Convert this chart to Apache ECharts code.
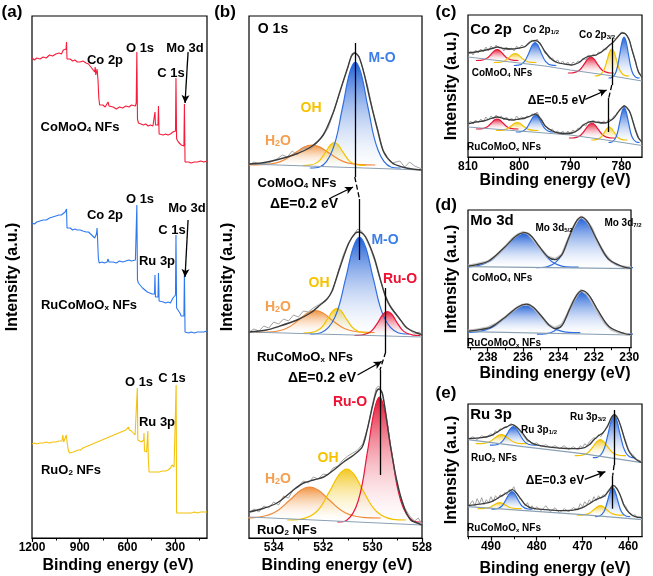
<!DOCTYPE html>
<html><head><meta charset="utf-8">
<script src="https://cdn.jsdelivr.net/npm/echarts@6/dist/echarts.min.js"></script>
<style>html,body{margin:0;padding:0;background:#fff}#c{width:653px;height:576px}</style>
</head><body><div id="c"></div>
<script>
// ---------- Panel (a): survey spectra [eV, intensity] ----------
const a_red = [[1200,480],[1185,478],[1170,480],[1150,479],[1130,481],[1110,480],[1090,483],[1070,482],[1050,484],[1030,485],[1015,484],[1003,488],[992,490],[986,489],[983,496],[980,479],[972,478],[960,479],[945,477],[930,478],[915,476],[898,476],[880,477],[860,475],[845,474],[835,472],[825,470],[815,469],[806,466],[803,471],[799,463],[795,465],[791,469],[788,470],[785,458],[780,440],[775,433],[765,431],[755,433],[740,431],[728,433],[722,436],[716,432],[705,430],[690,431],[670,429],[650,431],[630,430],[610,432],[590,431],[575,433],[563,433],[550,432],[545,435],[541,486],[537,419],[531,415],[515,414],[500,413],[485,414],[470,412],[455,413],[440,412],[430,414],[427,426],[424,413],[415,412],[408,413],[405,432],[401,404],[390,404],[375,403],[360,404],[345,403],[330,404],[320,405],[314,406],[305,405],[298,407],[295,460],[291,399],[280,396],[270,394],[262,393],[250,391],[245,392],[242,434],[238,376],[232,375],[215,376],[200,375],[180,376],[160,376],[140,377],[120,376],[100,377]];
const a_blue = [[1200,315],[1185,314],[1170,316],[1150,317],[1130,318],[1110,318],[1090,320],[1070,321],[1050,322],[1030,323],[1015,323],[1003,325],[992,326],[986,325],[983,329],[980,310],[972,309],[960,310],[945,308],[930,309],[915,308],[898,308],[880,307],[860,306],[845,306],[835,305],[825,303],[815,302],[806,300],[800,302],[795,304],[791,310],[788,300],[783,280],[778,275],[770,275],[760,276],[745,275],[728,276],[722,279],[716,276],[705,275],[690,276],[670,275],[650,277],[630,276],[610,277],[590,278],[575,277],[563,278],[550,278],[545,279],[541,333],[537,258],[531,255],[520,253],[505,250],[490,248],[475,246],[460,245],[445,244],[435,243],[430,244],[427,263],[424,241],[415,240],[408,241],[405,265],[401,237],[390,236],[375,236],[360,235],[345,236],[330,235],[320,236],[314,240],[305,242],[298,243],[295,303],[291,230],[280,228],[270,225],[262,222],[250,221],[245,222],[242,265],[238,206],[232,205],[215,205],[200,206],[180,205],[160,206],[140,206],[120,206],[100,207]];
const a_yellow = [[1200,94],[1185,95],[1170,94],[1150,95],[1130,95],[1110,96],[1090,95],[1070,96],[1050,96],[1030,97],[1012,97],[1006,103],[1001,96],[990,96],[984,103],[979,95],[972,88],[965,85],[955,85],[940,86],[925,87],[910,88],[895,88],[880,90],[865,91],[850,92],[835,93],[820,94],[805,95],[790,96],[775,97],[760,98],[745,99],[730,100],[715,101],[700,102],[685,103],[670,104],[655,105],[640,106],[625,107],[610,108],[600,109],[594,111],[588,108],[575,107],[563,105],[552,103],[545,103],[541,104],[538,150],[535,98],[525,97],[512,96],[503,96],[498,98],[496,105],[493,87],[488,86],[480,86],[475,88],[472,107],[469,80],[464,66],[455,65],[440,66],[420,66],[400,66],[380,67],[360,67],[345,68],[330,70],[320,73],[313,75],[307,71],[300,70],[297,72],[294,153],[291,25],[280,25],[260,25],[240,25],[220,25],[200,25],[180,26],[160,25],[140,26],[120,26],[100,26]];
const a_ticks = [300,600,900,1200], a_minor = [150,450,750,1050];

// ---------- Panel (b): O 1s ----------
const b1_raw = [[535,373],[534.8,376],[534.55,374],[534.2,375],[533.87,379],[533.65,383],[533.45,381],[533.25,387],[533.05,383],[532.8,390],[532.5,389],[532.25,395],[532.0,402],[531.8,410],[531.6,424],[531.4,440],[531.2,456],[531.0,470],[530.85,484],[530.7,486],[530.55,482],[530.4,470],[530.2,452],[530.0,428],[529.8,410],[529.6,389],[529.4,381],[529.2,375],[528.9,377],[528.7,371],[528.5,376],[528.3,372],[528,369]];
const b1_env = [[535,374],[534.5,375],[533.9,378],[533.2,383],[532.5,391],[532.0,403],[531.6,425],[531.3,448],[531.0,471],[530.85,482],[530.72,485],[530.55,481],[530.35,465],[530.1,438],[529.8,408],[529.55,386],[529.2,375],[528.8,371],[528.4,369],[528,368]];
const b1_base = [[535,374],[528,368]];
const b1_MO = [[532.54,370],[532.14,371],[531.62,388],[531.22,430],[530.93,465],[530.7,476],[530.47,465],[530.18,430],[529.78,388],[529.26,371],[528.86,370]];
const b1_OH = [[532.83,372.5],[532.55,372.8],[532.19,376.4],[531.91,385.6],[531.71,393.1],[531.55,395.5],[531.39,393.1],[531.19,385.6],[530.91,376.4],[530.55,372.8],[530.27,372.5]];
const b1_H2O = [[535.01,373],[534.45,373.3],[533.73,376.4],[533.17,384.4],[532.77,390.9],[532.45,393],[532.13,390.9],[531.73,384.4],[531.17,376.4],[530.45,373.3],[529.89,373]];

const b2_raw = [[535,206],[534.8,209],[534.6,207],[534.4,212],[534.2,210],[534.0,216],[533.8,214],[533.6,219],[533.4,217],[533.2,223],[533.0,221],[532.8,227],[532.6,226],[532.4,230],[532.2,233],[532.0,236],[531.8,240],[531.6,248],[531.4,266],[531.2,282],[531.0,294],[530.8,302],[530.6,309],[530.45,307],[530.3,301],[530.1,290],[529.9,276],[529.7,259],[529.5,244],[529.3,233],[529.1,226],[528.9,219],[528.7,211],[528.5,208],[528.3,204],[528.1,206],[528,203]];
const b2_env = [[535,206],[534.3,208],[533.87,211],[533.06,218],[532.52,225],[532.12,233],[531.84,239],[531.64,247],[531.3,272],[530.96,295],[530.69,305],[530.53,306],[530.28,301],[529.94,281],[529.68,258],[529.47,241],[529.27,231],[528.93,220],[528.6,210],[528.2,205],[528,203]];
const b2_base = [[535,206],[528,201]];
const b2_MO = [[532.53,204],[532.09,205.3],[531.53,220.5],[531.09,259.3],[530.78,290.8],[530.53,301],[530.28,290.8],[529.97,259.3],[529.53,220.5],[528.97,205.3],[528.53,204]];
const b2_RuO = [[530.73,202.5],[530.44,202.8],[530.06,206.6],[529.77,216.2],[529.57,224],[529.4,226.5],[529.23,224],[529.03,216.2],[528.74,206.6],[528.36,202.8],[528.07,202.5]];
const b2_OH = [[532.8,205],[532.5,205.3],[532.12,209.2],[531.82,219.1],[531.61,227.1],[531.44,229.7],[531.27,227.1],[531.06,219.1],[530.76,209.2],[530.38,205.3],[530.08,205]];
const b2_H2O = [[534.72,205.5],[534.2,205.8],[533.52,209.2],[532.99,218],[532.62,225.2],[532.32,227.5],[532.02,225.2],[531.65,218],[531.12,209.2],[530.45,205.8],[529.92,205.5]];

const b3_raw = [[535,25],[534.8,29],[534.6,26],[534.4,32],[534.2,30],[534.0,36],[533.8,33],[533.6,42],[533.4,40],[533.2,49],[533.0,52],[532.8,57],[532.6,55],[532.4,61],[532.2,59],[532.0,64],[531.8,63],[531.6,70],[531.4,72],[531.2,78],[531.0,82],[530.8,85],[530.6,88],[530.4,94],[530.2,110],[530.0,134],[529.85,150],[529.75,152],[529.6,145],[529.45,123],[529.3,97],[529.1,66],[528.9,44],[528.7,30],[528.5,22],[528.3,17],[528.15,20],[528,14]];
const b3_env = [[535,26],[534.5,29],[533.87,35],[533.2,48],[532.79,55],[532.39,58],[531.98,61],[531.57,68],[531.17,76],[530.76,83],[530.42,91],[530.22,108],[530.01,131],[529.85,146],[529.74,149],[529.61,145],[529.47,125],[529.27,91],[529.0,55],[528.73,31],[528.46,18],[528.19,15],[528,13]];
const b3_base = [[535,21],[528,13]];
const b3_RuO = [[531.43,16],[531.06,17.6],[530.58,37.3],[530.2,87.3],[529.93,127.9],[529.72,141],[529.51,127.9],[529.24,87.3],[528.86,37.3],[528.38,17.6],[528.01,16]];
const b3_OH = [[533.45,18],[532.93,18.7],[532.25,26.7],[531.73,47.1],[531.35,63.6],[531.05,69],[530.75,63.6],[530.38,47.1],[529.85,26.7],[529.18,18.7],[528.65,18]];
const b3_H2O = [[535.43,20],[534.8,20.4],[533.99,25.3],[533.36,37.7],[532.91,47.7],[532.55,51],[532.19,47.7],[531.74,37.7],[531.11,25.3],[530.3,20.4],[529.67,20]];
const b_ticks = [528,530,532,534], b_minor = [529,531,533];

// ---------- Panel (c): Co 2p ----------
const c1_raw = [[810,103],[809.5,106],[809,102],[808.5,107],[808,104],[807.5,108],[807,105],[806.5,110],[806,106],[805.5,111],[805,108],[804.5,112],[804,109],[803.5,110],[803,106],[802.5,110],[802,107],[801.5,109],[801,106],[800.5,111],[800,108],[799.5,112],[799,110],[798.5,113],[798,115],[797.5,117],[797,115],[796.5,118],[796,113],[795.5,110],[795,104],[794.5,102],[794,98],[793.5,99],[793,95],[792.5,97],[792,93],[791.5,96],[791,92],[790.5,95],[790,91],[789.5,95],[789,93],[788.5,96],[788,95],[787.5,99],[787,97],[786.5,102],[786,100],[785.5,103],[785,101],[784.5,105],[784,104],[783.5,108],[783,107],[782.5,112],[782,113],[781.5,116],[781,118],[780.5,121],[780,125],[779.5,124],[779,122],[778.5,118],[778,108],[777.5,99],[777,90],[776.5,84],[776,81]];
const c1_env = [[810,104],[808.5,105],[806.5,107],[805,109],[804.3,110],[803,108.5],[801.5,108],[800,109],[798.8,110.5],[797.8,115],[796.9,116.5],[796,114],[794.9,105],[793.5,97],[792.3,94],[790.5,92.5],[789.7,92],[788.5,94],[787.7,97],[786.8,100],[786,101],[785,102],[783.8,105.5],[782.5,111],[781.5,115.5],[780.6,121],[779.9,124],[779.2,123],[778.5,117],[778,108],[777.3,96],[776.7,85],[776,80]];
const c1_base = [[810,100],[795,91],[790,87],[783,82],[776,76]];
const c1_red1 = [[808.46,96.5],[807.55,96.6],[806.38,98.4],[805.47,102.8],[804.82,106.3],[804.3,107.5],[803.78,106.3],[803.13,102.8],[802.22,98.4],[801.05,96.6],[800.14,96.5]];
const c1_yel1 = [[804.96,94.5],[804.05,94.6],[802.88,96.0],[801.97,99.6],[801.32,102.6],[800.8,103.5],[800.28,102.6],[799.63,99.6],[798.72,96.0],[797.55,94.6],[796.64,94.5]];
const c1_blu1 = [[801.06,91.5],[800.15,91.8],[798.98,95.4],[798.07,104.6],[797.42,112.1],[796.9,114.5],[796.38,112.1],[795.73,104.6],[794.82,95.4],[793.65,91.8],[792.74,91.5]];
const c1_red2 = [[790.48,84],[789.5,84.2],[788.24,86.7],[787.26,93.1],[786.56,98.3],[786,100],[785.44,98.3],[784.74,93.1],[783.76,86.7],[782.5,84.2],[781.52,84]];
const c1_yel2 = [[785.26,81],[784.53,81.4],[783.58,85.6],[782.85,96.4],[782.32,105.2],[781.9,108],[781.48,105.2],[780.95,96.4],[780.22,85.6],[779.28,81.4],[778.54,81]];
const c1_blu2 = [[782.54,79],[781.88,79.5],[781.02,86],[780.36,102.4],[779.88,115.7],[779.5,120],[779.12,115.7],[778.64,102.4],[777.98,86],[777.12,79.5],[776.46,79]];

const c2_raw = [[810,32],[809.5,36],[809,33],[808.5,37],[808,34],[807.5,38],[807,35],[806.5,40],[806,37],[805.5,41],[805,38],[804.5,42],[804,39],[803.5,41],[803,37],[802.5,40],[802,36],[801.5,39],[801,36],[800.5,41],[800,38],[799.5,40],[799,38],[798.5,41],[798,40],[797.5,43],[797,42],[796.5,45],[796,40],[795.5,37],[795,31],[794.5,29],[794,27],[793.5,28],[793,24],[792.5,26],[792,23],[791.5,26],[791,22],[790.5,26],[790,23],[789.5,27],[789,25],[788.5,29],[788,28],[787.5,33],[787,31],[786.5,36],[786,34],[785.5,37],[785,34],[784.5,36],[784,33],[783.5,36],[783,34],[782.5,38],[782,37],[781.5,41],[781,42],[780.5,46],[780,48],[779.5,52],[779,49],[778.5,47],[778,40],[777.5,32],[777,24],[776.5,18],[776,15]];
const c2_env = [[810,33],[808.5,35],[807,36],[805.5,38.5],[804.3,40],[803,38.5],[801.4,37],[800,38],[798.8,39],[797.8,41],[796.8,43],[795.8,38],[794.9,31],[793.5,26],[792.3,24],[791,23.5],[789.7,24],[788.5,27],[787.7,31],[786.8,34],[785.8,35.5],[784.5,34.5],[783.2,34],[782.3,36],[781.5,39],[780.8,44],[780.2,48],[779.5,51],[778.9,49],[778.3,44],[777.7,34],[777.3,27],[776.7,19],[776,15]];
const c2_base = [[810,30],[795,24],[790,22],[783,17],[776,11.5]];
const c2_red1 = [[808.46,28],[807.55,28.1],[806.38,29.7],[805.47,33.7],[804.82,37],[804.3,38],[803.78,37],[803.13,33.7],[802.22,29.7],[801.05,28.1],[800.14,28]];
const c2_yel1 = [[804.56,26.5],[803.65,26.6],[802.48,27.9],[801.57,31.1],[800.92,33.7],[800.4,34.5],[799.88,33.7],[799.23,31.1],[798.32,27.9],[797.15,26.6],[796.24,26.5]];
const c2_blu1 = [[800.64,25],[799.8,25.2],[798.72,27.9],[797.88,34.7],[797.28,40.2],[796.8,42],[796.32,40.2],[795.72,34.7],[794.88,27.9],[793.8,25.2],[792.96,25]];
const c2_red2 = [[790.28,19],[789.3,19.2],[788.04,21.6],[787.06,27.6],[786.36,32.4],[785.8,34],[785.24,32.4],[784.54,27.6],[783.56,21.6],[782.3,19.2],[781.32,19]];
const c2_yel2 = [[785.92,17],[785.15,17.2],[784.16,19.2],[783.39,24.4],[782.84,28.6],[782.4,30],[781.96,28.6],[781.41,24.4],[780.64,19.2],[779.65,17.2],[778.88,17]];
const c2_blu2 = [[782.54,14.5],[781.88,15],[781.02,20.5],[780.36,34.5],[779.88,45.8],[779.5,49.5],[779.12,45.8],[778.64,34.5],[777.98,20.5],[777.12,15],[776.46,14.5]];
const c_ticks = [780,790,800,810], c_minor = [785,795,805];

// ---------- Panel (d): Mo 3d ----------
const d1_raw = [[239.1,82],[238.6,83.5],[238,86],[237.5,92],[237,101],[236.6,109],[236.3,113],[236,115.5],[235.7,114],[235.4,108],[235,99],[234.6,91],[234.2,88.5],[233.8,93],[233.5,106],[233.2,119],[232.9,128],[232.7,131],[232.4,127],[232.1,119],[231.8,106],[231.4,94],[231,86],[230.5,81.5],[229.9,80]];
const d1_env = [[239.1,81.5],[238.6,83],[237.9,87],[237.03,100.5],[236.4,111.5],[235.9,115],[235.52,111.5],[235.05,100.5],[234.6,91],[234.2,88],[233.8,93],[233.42,109.5],[233.02,125.3],[232.7,130.5],[232.32,125],[231.85,108.8],[231.18,88.7],[230.33,80.8],[229.9,79.3]];
const d1_base = [[239.1,81],[229.9,79]];
const d1_p1 = [[239.9,80.5],[239.03,80.9],[237.9,86.3],[237.03,99.9],[236.4,110.9],[235.9,114.5],[235.52,110.9],[235.05,99.9],[234.38,86.3],[233.53,80.9],[232.86,80.5]];
const d1_p2 = [[235.26,80],[234.7,80.7],[233.98,88.5],[233.42,108.5],[233.02,124.8],[232.7,130],[232.32,124.8],[231.85,108.5],[231.18,88.5],[230.33,80.7],[229.66,80]];
const d2_raw = [[239.1,17],[238.6,18],[238,20],[237.5,24],[237,30.5],[236.6,36.5],[236.3,40.5],[236,43],[235.7,43.5],[235.4,40],[235,32],[234.6,23.5],[234.2,19.5],[233.8,23],[233.5,33],[233.2,45],[232.9,54],[232.7,57.5],[232.4,54],[232.1,46],[231.8,36],[231.4,25],[231,18],[230.5,14.5],[229.9,13]];
const d2_env = [[239.1,16.5],[238.6,17.5],[237.8,20.5],[236.93,31.5],[236.3,40.5],[235.8,43.5],[235.42,40.5],[234.95,31.5],[234.55,23],[234.15,19],[233.8,22],[233.37,38.3],[232.97,52.3],[232.65,57],[232.27,52.3],[231.8,38.2],[231.13,21],[230.28,14.2],[229.9,13]];
const d2_base = [[239.1,16],[229.9,12.7]];
const d2_p1 = [[239.8,15],[238.93,15.4],[237.8,19.8],[236.93,31],[236.3,40.1],[235.8,43],[235.42,40.1],[234.95,31],[234.28,19.8],[233.43,15.4],[232.76,15]];
const d2_p2 = [[235.21,13.5],[234.65,14.1],[233.93,20.8],[233.37,38],[232.97,52],[232.65,56.5],[232.27,52],[231.8,38],[231.13,20.8],[230.28,14.1],[229.61,13.5]];
const d_ticks = [230,232,234,236,238], d_minor = [231,233,235,237,239];

// ---------- Panel (e): Ru 3p ----------
const e1_raw = [[495,97],[494,100],[493,97],[492,101],[491,99],[490,103],[489.5,101],[489,106],[488.5,104],[488,108],[487.5,107],[487,110],[486.5,109],[486,112],[485.5,113],[485,111],[484.5,110],[484,107],[483.5,104],[483,101],[482.5,99],[482,95],[481.5,96],[481,92],[480,94],[479,90],[478,92],[477,89],[476,91],[475,88],[474,91],[473,87],[472,90],[471,87],[470.5,91],[470,89],[469.5,93],[469,91],[468.5,95],[468,97],[467.5,99],[467,98],[466.5,102],[466,100],[465.5,104],[465,107],[464.5,110],[464,115],[463.5,120],[463,123],[462.5,121],[462,116],[461.5,108],[461,101],[460.5,95],[460,88],[459.5,84],[459,82],[458.5,79],[458,77],[457,75]];
const e1_env = [[495,98],[492,99],[490,101],[488.5,105],[487.5,108],[486.5,110],[485.3,112],[484.2,109],[483,103],[482,97],[480.5,92.5],[478,90],[475,88.5],[472,88],[470,88.5],[468.5,92],[467.5,97],[466.5,101],[465.5,104],[464.5,111],[463.7,119],[463.1,122],[462.4,119],[461.6,110],[460.7,96],[459.8,85],[458.5,78],[457,74]];
const e1_base = [[495,97],[483,90],[470,83],[457,74]];
const e1_yel1 = [[493.3,93],[492.08,93.1],[490.5,94.5],[489.28,98.1],[488.4,101.1],[487.7,102],[487.0,101.1],[486.13,98.1],[484.9,94.5],[483.33,93.1],[482.1,93]];
const e1_blu1 = [[490.22,91.5],[489.1,91.7],[487.66,94.6],[486.54,102],[485.74,108.1],[485.1,110],[484.46,108.1],[483.66,102],[482.54,94.6],[481.1,91.7],[479.98,91.5]];
const e1_yel2 = [[471.7,81],[470.48,81.2],[468.9,83.7],[467.68,90.1],[466.8,95.3],[466.1,97],[465.4,95.3],[464.53,90.1],[463.3,83.7],[461.73,81.2],[460.5,81]];
const e1_blu2 = [[467.74,79],[466.73,79.5],[465.42,86.1],[464.41,102.9],[463.68,116.6],[463.1,121],[462.52,116.6],[461.8,102.9],[460.78,86.1],[459.48,79.5],[458.46,79]];
const e2_raw = [[495,30],[494,36],[493.5,31],[493,38],[492.5,33],[492,39],[491.5,32],[491,37],[490.5,34],[490,40],[489.5,35],[489,41],[488.5,38],[488,42],[487.5,40],[487,44],[486.5,42],[486,47],[485.5,46],[485,50],[484.5,44],[484,41],[483.5,37],[483,35],[482.5,31],[482,34],[481.5,28],[481,31],[480.5,27],[480,30],[479,26],[478,31],[477,25],[476,29],[475,24],[474,28],[473,25],[472,29],[471,27],[470.5,33],[470,30],[469.5,35],[469,32],[468.5,37],[468,34],[467.5,40],[467,36],[466.5,41],[466,38],[465.5,42],[465,40],[464.5,46],[464,48],[463.5,52],[463,50],[462.5,49],[462,44],[461.5,39],[461,33],[460.5,30],[460,25],[459.5,23],[459,21],[458.5,22],[458,19],[457,20]];
const e2_env = [[495,31],[492.5,32.5],[490.5,34],[489,37],[488,40],[487,42.5],[486,45.5],[485.3,47],[484.5,44],[483.5,38],[482.5,32],[481,28.5],[478,27],[475,26],[472,26.5],[470,29],[468.5,33],[467.3,36.5],[466.3,38.5],[465.3,40.5],[464.4,45],[463.6,50],[463.1,51],[462.5,48],[461.8,42],[460.9,31],[459.8,24],[458.5,20],[457,19]];
const e2_base = [[495,30],[470,22],[457,17]];
const e2_yel1 = [[492.9,28],[491.85,28.1],[490.5,29],[489.45,31.4],[488.7,33.4],[488.1,34],[487.5,33.4],[486.75,31.4],[485.7,29],[484.35,28.1],[483.3,28]];
const e2_blu1 = [[489.88,27.5],[488.9,27.7],[487.64,30.5],[486.66,37.5],[485.96,43.2],[485.4,45],[484.84,43.2],[484.14,37.5],[483.16,30.5],[481.9,27.7],[480.92,27.5]];
const e2_yel2 = [[471.22,21.5],[470.1,21.6],[468.66,23.1],[467.54,26.9],[466.74,30],[466.1,31],[465.46,30],[464.66,26.9],[463.54,23.1],[462.1,21.6],[460.98,21.5]];
const e2_blu2 = [[467.24,20],[466.4,20.4],[465.32,24.9],[464.48,36.5],[463.88,46],[463.4,49],[462.92,46],[462.32,36.5],[461.48,24.9],[460.4,20.4],[459.56,20]];
const e_ticks = [460,470,480,490], e_minor = [465,475,485,495];

// ---------- build ----------
const FONT = 'Arial, "Liberation Sans", Helvetica, sans-serif';
const BLUE='#2f6fe0', RED='#e8163b', YEL='#f2c200', ORA='#f08a3a', GRAYRAW='#a3a3a3', ENV='#3c3c3c', BASE='#8aa0b4';
const grids=[], xAxis=[], yAxis=[], series=[];
function panel(left, top, width, height, min, max, major, minor){
  const g = grids.length;
  grids.push({left, top, width, height, show:true, borderColor:'#000', borderWidth:1.2, backgroundColor:'rgba(0,0,0,0)'});
  xAxis.push({gridIndex:g, type:'value', inverse:true, min, max,
    axisLine:{show:true,onZero:false,lineStyle:{color:'#000',width:1.2}},
    axisTick:{show:true,length:4,customValues:major,lineStyle:{color:'#000',width:1.2}},
    axisLabel:{customValues:major,formatter:v=>String(v),color:'#000',fontSize:12,fontWeight:'bold',fontFamily:FONT,margin:4,showMinLabel:true,showMaxLabel:true},
    splitLine:{show:false}});
  xAxis.push({gridIndex:g, type:'value', inverse:true, min, max, position:'top', offset:-height,
    axisLine:{show:false,onZero:false}, axisTick:{show:true,inside:true,length:2.5,customValues:minor,lineStyle:{color:'#000',width:1}},
    axisLabel:{show:false}, splitLine:{show:false}});
  yAxis.push({gridIndex:g, type:'value', min:0, max:height, show:false});
  return g;
}
function line(g, data, color, width, extra){
  const s = Object.assign({type:'line', xAxisIndex:2*g, yAxisIndex:g, data, symbol:'none', showSymbol:false,
    lineStyle:{color, width}, silent:true, animation:false}, extra||{});
  series.push(s); return s;
}
function grad(c){ return new echarts.graphic.LinearGradient(0,0,0,1,[{offset:0,color:c},{offset:1,color:'rgba(255,255,255,0.25)'}]); }
function peak(g, data, color, fill){
  return line(g, data, color, 1.2, {smooth:0.4, areaStyle:{origin:data[0][1], opacity:1, color:grad(fill)}});
}
function mark(s, segs){
  s.markLine = {silent:true, animation:false, symbol:['none','none'], label:{show:false},
    lineStyle:{color:'#000',width:1.3,type:'solid'}, emphasis:{disabled:true},
    data: segs.map(sg=>{
      const st = {color:'#000', width:1.3, type: sg[2]||'solid'};
      const arrow = sg[3];
      return [{coord:sg[0], lineStyle:st, symbol:'none'}, {coord:sg[1], lineStyle:st, symbol: arrow?'arrow':'none', symbolSize: arrow?[6,8]:0}];
    })};
}

// panel a
const gA = panel(32,16,175,522,100,1200,a_ticks,a_minor);
const sAr = line(gA,a_red,'#f51d3a',1.1);
line(gA,a_blue,'#2e78ee',1.1);
line(gA,a_yellow,'#f4c20d',1.1);
mark(sAr, [[[219,486],[238,435],'solid',true],[[219,318],[238,261],'solid',true]]);

// panel b
const gB = panel(249,16,173,522,528,535,b_ticks,b_minor);
peak(gB,b1_H2O,ORA,'rgba(240,140,50,0.95)'); peak(gB,b1_OH,YEL,'rgba(242,196,20,0.95)'); peak(gB,b1_MO,BLUE,'rgba(30,95,215,1)');
line(gB,b1_base,BASE,1.2); line(gB,b1_raw,GRAYRAW,1); line(gB,b1_env,ENV,1.4,{smooth:0.3});
peak(gB,b2_H2O,ORA,'rgba(240,140,50,0.95)'); peak(gB,b2_OH,YEL,'rgba(242,196,20,0.95)'); peak(gB,b2_MO,BLUE,'rgba(30,95,215,1)'); peak(gB,b2_RuO,RED,'rgba(228,20,50,1)');
line(gB,b2_base,BASE,1.2); line(gB,b2_raw,GRAYRAW,1); line(gB,b2_env,ENV,1.4,{smooth:0.3});
peak(gB,b3_H2O,ORA,'rgba(240,140,50,0.95)'); peak(gB,b3_OH,YEL,'rgba(242,196,20,0.95)'); peak(gB,b3_RuO,RED,'rgba(228,20,50,1)');
const sB3 = line(gB,b3_base,BASE,1.2); line(gB,b3_raw,GRAYRAW,1); line(gB,b3_env,ENV,1.4,{smooth:0.3});
mark(sB3, [
  [[530.72,495],[530.72,361]], [[530.72,361],[530.53,339],'dashed'], [[530.53,339],[530.53,278]],
  [[529.47,250],[529.47,186]], [[529.47,186],[529.7,168],'dashed'], [[529.7,168],[529.7,63]],
  [[531.7,340],[530.79,351],'solid',true], [[530.61,163],[529.63,176.5],'solid',true]
]);

// panel c
const gC = panel(468,15,174,142,776,810,c_ticks,c_minor);
[[c1_red1,RED],[c1_yel1,YEL],[c1_blu1,BLUE],[c1_red2,RED],[c1_yel2,YEL],[c1_blu2,BLUE],
 [c2_red1,RED],[c2_yel1,YEL],[c2_blu1,BLUE],[c2_red2,RED],[c2_yel2,YEL],[c2_blu2,BLUE]].forEach(p=>{
  const f = p[1]===RED?'rgba(228,20,50,1)':p[1]===YEL?'rgba(242,196,20,0.95)':'rgba(30,95,215,1)';
  peak(gC,p[0],p[1],f);
});
line(gC,c1_base,BASE,1.2); line(gC,c1_raw,GRAYRAW,1); line(gC,c1_env,ENV,1.3,{smooth:0.3});
const sC2 = line(gC,c2_base,BASE,1.2); line(gC,c2_raw,GRAYRAW,1); line(gC,c2_env,ENV,1.3,{smooth:0.3});
mark(sC2, [[[781.9,118.7],[781.9,72]], [[781.9,72],[782.5,59],'dashed'], [[782.5,59],[782.5,25]], [[787.1,57.7],[782.9,67],'solid',true]]);

// panel d
const gD = panel(468,210,174,137.7,229.9,239.1,d_ticks,d_minor);
[d1_p1,d1_p2,d2_p1,d2_p2].forEach(p=>peak(gD,p,BLUE,'rgba(30,95,215,1)'));
line(gD,d1_base,BASE,1.2); line(gD,d1_raw,'#c2c2c2',2.4); line(gD,d1_env,ENV,1.3,{smooth:0.3});
line(gD,d2_base,BASE,1.2); line(gD,d2_raw,'#c2c2c2',2.4); line(gD,d2_env,ENV,1.3,{smooth:0.3});

// panel e
const gE = panel(468,404,174,132.7,457,495,e_ticks,e_minor);
[[e1_yel1,YEL],[e1_blu1,BLUE],[e1_yel2,YEL],[e1_blu2,BLUE],[e2_yel1,YEL],[e2_blu1,BLUE],[e2_yel2,YEL],[e2_blu2,BLUE]].forEach(p=>{
  peak(gE,p[0],p[1],p[1]===YEL?'rgba(242,196,20,0.95)':'rgba(30,95,215,1)');
});
line(gE,e1_base,BASE,1.2); line(gE,e1_raw,GRAYRAW,1); line(gE,e1_env,ENV,1.3,{smooth:0.3});
const sE2 = line(gE,e2_base,BASE,1.2); line(gE,e2_raw,GRAYRAW,1); line(gE,e2_env,ENV,1.3,{smooth:0.3});
mark(sE2, [[[463.1,126.7],[463.1,71.7]], [[463.1,71.7],[463.4,61],'dashed'], [[463.4,61],[463.4,28]], [[469.5,57.4],[465.0,65],'solid',true]]);

// ---------- texts ----------
function T(x,y,s,size,color,rot){
  const txt = '{a|' + s.replace(/_\{([^}]*)\}/g,'}{b|$1}{a|') + '}';
  const base = {fontWeight:'bold',fontFamily:FONT,fill:color||'#000',lineHeight:size+2,verticalAlign:'bottom'};
  return {type:'text', x, y, rotation:rot||0, z:100, silent:true,
    style:{text:txt, align:'center', verticalAlign:'middle',
      rich:{a:Object.assign({fontSize:size},base), b:Object.assign({fontSize:Math.round(size*0.62)},base)}}};
}
const R = Math.PI/2, CB='#3c7ee8', CY='#f5c200', CO='#f4a050', CR='#ee1133';
const graphic = [
  T(12,11,'(a)',17), T(225,11,'(b)',17), T(446,11,'(c)',17), T(446,204,'(d)',17), T(446,392,'(e)',17),
  T(12,277,'Intensity (a.u.)',16,'#000',R), T(227,277,'Intensity (a.u.)',16,'#000',R),
  T(451,86,'Intensity (a.u.)',16,'#000',R), T(451,279,'Intensity (a.u.)',16,'#000',R), T(451,470,'Intensity (a.u.)',16,'#000',R),
  T(118,565,'Binding energy (eV)',16), T(337,565,'Binding energy (eV)',16),
  T(555,180,'Binding energy (eV)',16), T(555,373,'Binding energy (eV)',16), T(555,568,'Binding energy (eV)',16),
  // a
  T(140,47,'O 1s',13), T(185,47,'Mo 3d',13), T(105,59,'Co 2p',13), T(171,72,'C 1s',13), T(80,126,'CoMoO_{4} NFs',13),
  T(140,198,'O 1s',13), T(187,207,'Mo 3d',13), T(105,214,'Co 2p',13), T(172,229,'C 1s',13), T(157,260,'Ru 3p',13), T(89,304,'RuCoMoO_{x} NFs',13),
  T(139,381,'O 1s',13), T(172,377,'C 1s',13), T(157,421,'Ru 3p',13), T(71,469,'RuO_{2} NFs',13),
  // b
  T(273,28,'O 1s',14), T(382,57,'M-O',14,CB), T(311,107,'OH',14,CY), T(278,140,'H_{2}O',14,CO), T(297,182,'CoMoO_{4} NFs',13), T(304,203,'ΔE=0.2 eV',14),
  T(385,239,'M-O',14,CB), T(400,278,'Ru-O',14,CR), T(319,282,'OH',14,CY), T(278,306,'H_{2}O',14,CO), T(305,356,'RuCoMoO_{x} NFs',13), T(322,377,'ΔE=0.2 eV',14),
  T(350,401,'Ru-O',14,CR), T(328,457,'OH',14,CY), T(278,478,'H_{2}O',14,CO), T(287,529,'RuO_{2} NFs',13),
  // c
  T(491,29,'Co 2p',15), T(541,29,'Co 2p_{1/2}',10), T(597,34,'Co 2p_{3/2}',10), T(502,72,'CoMoO_{4} NFs',10), T(557,100,'ΔE=0.5 eV',12), T(504,146,'RuCoMoO_{x} NFs',10),
  // d
  T(492,220,'Mo 3d',15), T(554,227,'Mo 3d_{5/2}',10), T(623,222,'Mo 3d_{7/2}',10), T(502,277,'CoMoO_{4} NFs',10), T(504,342,'RuCoMoO_{x} NFs',10),
  // e
  T(491,414,'Ru 3p',15), T(539,429,'Ru 3p_{1/2}',10), T(588,416,'Ru 3p_{3/2}',10), T(494,457,'RuO_{2} NFs',10), T(555,480,'ΔE=0.3 eV',12), T(504,527,'RuCoMoO_{x} NFs',10)
];

const chart = echarts.init(document.getElementById('c'));
chart.setOption({animation:false, backgroundColor:'#fff', grid:grids, xAxis, yAxis, series, graphic});
</script></body></html>
